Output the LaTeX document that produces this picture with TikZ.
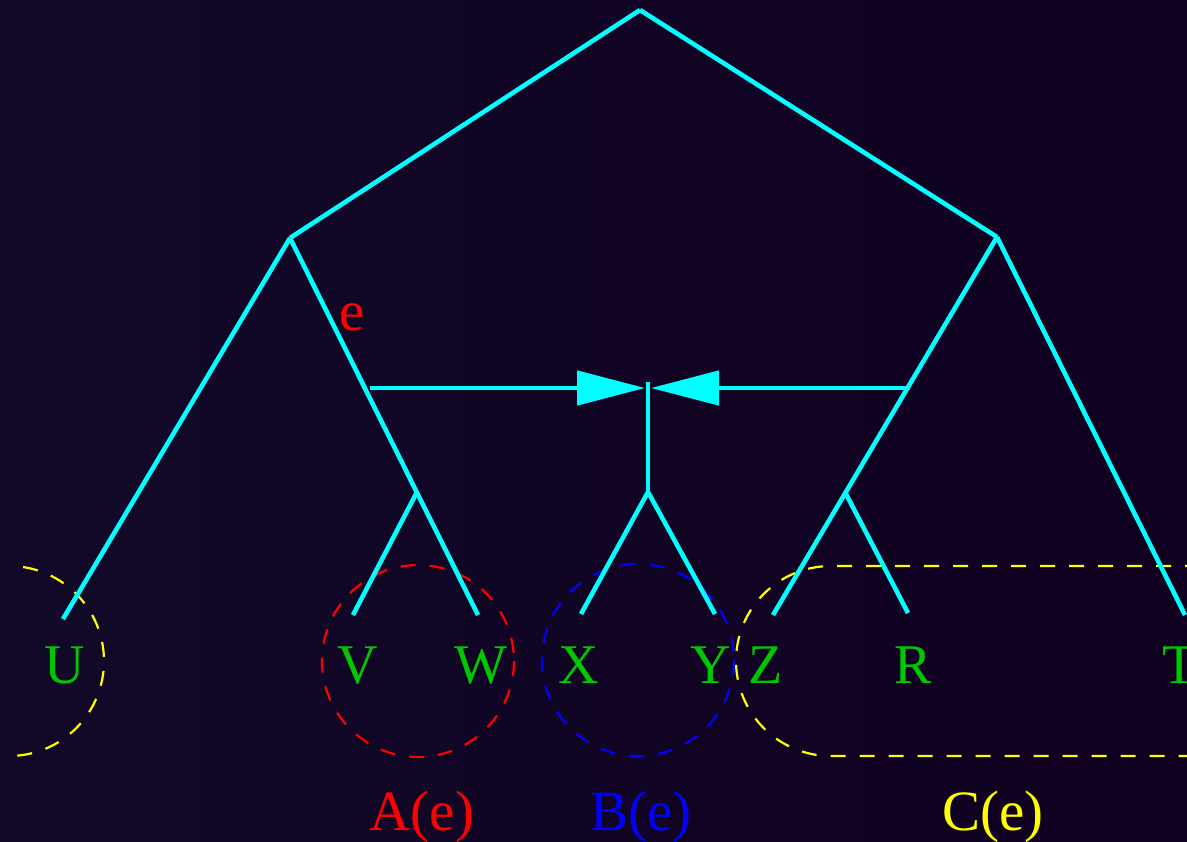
\documentclass[tikz,border=0pt]{standalone}
\usepackage{fontspec}
\setmainfont{Liberation Serif}
\usetikzlibrary{arrows.meta}
\definecolor{edgecyan}{RGB}{0,255,255}
\definecolor{leafgreen}{RGB}{0,200,0}
\definecolor{setred}{RGB}{255,0,0}
\definecolor{setblue}{RGB}{0,0,255}
\definecolor{setyellow}{RGB}{255,255,0}
\definecolor{bgleft}{RGB}{18,9,40}
\definecolor{bgmid}{RGB}{20,0,33}
\definecolor{bgright}{RGB}{16,0,32}
\begin{document}
\begin{tikzpicture}[x=0.5pt,y=-0.5pt,
  edge/.style={edgecyan,line width=2.3pt},
  leaf/.style={text=leafgreen,font=\fontsize{28}{30}\selectfont,anchor=base,inner sep=0pt},
  setlabel/.style={font=\fontsize{28.5}{30}\selectfont,anchor=base,inner sep=0pt},
  setline/.style={dash pattern=on 7.5pt off 7pt,line width=1.1pt},
  bigtip/.style={-{Triangle[length=34pt,width=17pt]}}]
\useasboundingbox (0,0) rectangle (1187,841);
\shade[left color=bgleft,middle color=bgmid,right color=bgright] (0,0) rectangle (1187,841);
\clip (0,0) rectangle (1187,841);
% tree points
\coordinate (root) at (640,10);
\coordinate (L) at (290,238);
\coordinate (Rn) at (997,237);
\coordinate (vw) at (417,492);
\coordinate (xy) at (648,492);
\coordinate (zr) at (845,492);
\coordinate (uE) at (63,619);
\coordinate (vE) at (353,615);
\coordinate (wE) at (478,615);
\coordinate (xE) at (581,614);
\coordinate (yE) at (715,614);
\coordinate (zE) at (773,615);
\coordinate (rE) at (908,613);
\coordinate (tE) at (1185,615);
\coordinate (aL) at (370,388);
\coordinate (aR) at (910,388);
\coordinate (tipL) at (645,388);
\coordinate (tipR) at (651,388);
\coordinate (vtop) at (648,382);
% dashed sets
\draw[setline,setyellow] (9,661) ++(85:95) arc[start angle=85,end angle=-85,radius=95];
\draw[setline,setred] (418,661) circle[radius=96];
\draw[setline,setblue] (638,660) circle[radius=96];
\draw[setline,setyellow] (1200,566) -- (831,566) arc[start angle=270,end angle=90,radius=95] -- (1200,756);
% edges
\draw[edge] (root) -- (L);
\draw[edge] (root) -- (Rn);
\draw[edge] (L) -- (uE);
\draw[edge] (L) -- (wE);
\draw[edge] (vw) -- (vE);
\draw[edge] (Rn) -- (zE);
\draw[edge] (zr) -- (rE);
\draw[edge] (Rn) -- (tE);
\draw[edge] (vtop) -- (xy);
\draw[edge] (xy) -- (xE);
\draw[edge] (xy) -- (yE);
\draw[edge,bigtip] (aL) -- (tipL);
\draw[edge,bigtip] (aR) -- (tipR);
% labels
\node[leaf] (U) at (65,683) {U};
\node[leaf] (V) at (358,683) {V};
\node[leaf] (W) at (481,683) {W};
\node[leaf] (X) at (579,683) {X};
\node[leaf] (Y) at (711,683) {Y};
\node[leaf] (Z) at (766,683) {Z};
\node[leaf] (R) at (913,683) {R};
\node[leaf] (T) at (1180,683) {T};
\node[setlabel,text=setred] (e) at (352,330) {e};
\node[setlabel,text=setred] (A) at (422,830) {A(e)};
\node[setlabel,text=setblue] (B) at (641,830) {B(e)};
\node[setlabel,text=setyellow] (C) at (993,830) {C(e)};
\end{tikzpicture}
\end{document}
